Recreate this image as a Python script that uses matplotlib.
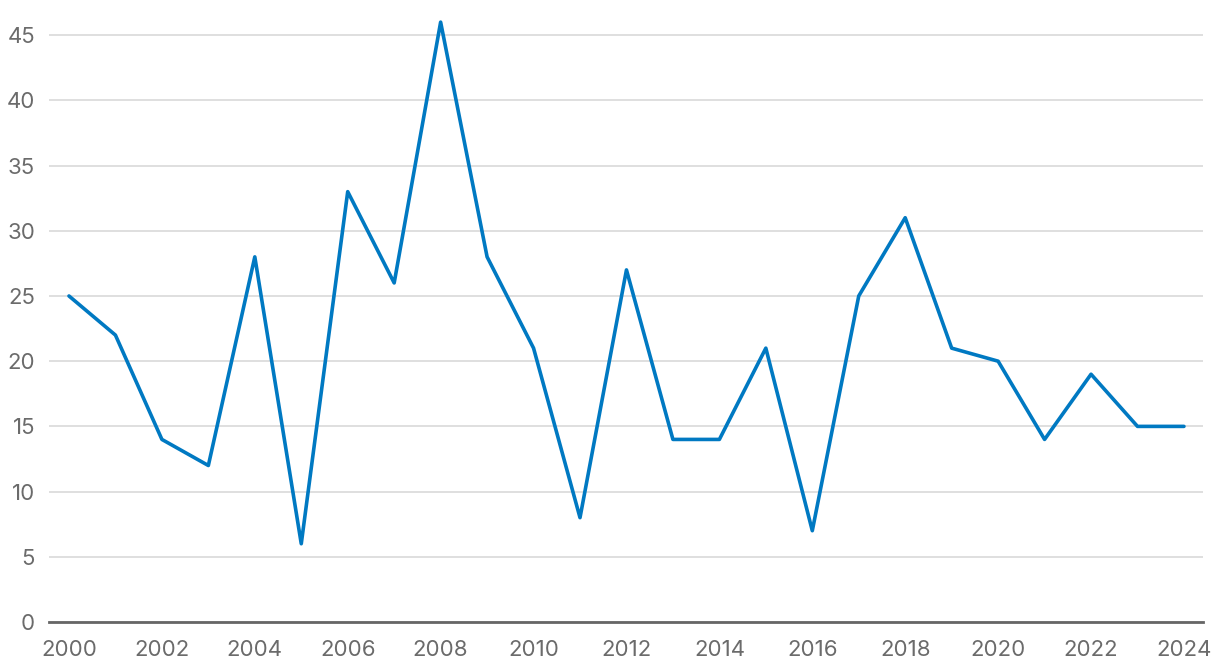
import matplotlib
matplotlib.use("Agg")
import matplotlib.pyplot as plt

years = list(range(2000, 2025))
values = [25, 22, 14, 12, 28, 6, 33, 26, 46, 28, 21, 8, 27, 14, 14, 21, 7, 25, 31, 21, 20, 14, 19, 15, 15]
yticks = [0, 5, 10, 15, 20, 25, 30, 35, 40, 45]
xticks = list(range(2000, 2025, 2))

plt.rcParams['font.family'] = ['Inter', 'DejaVu Sans']

fig = plt.figure(figsize=(12.2, 6.68), dpi=100)
ax = fig.add_axes([49/1220, 46/668, (1203-49)/1220, (622-15.6)/668])
ax.plot(years, values, color='#0079c2', linewidth=2.6, solid_joinstyle='round',
        solid_capstyle='round', zorder=3)
ax.set_xlim(1999.57, 2024.41)
ax.set_ylim(0, 46.5)
ax.set_yticks(yticks)
ax.set_xticks(xticks)
ax.grid(axis='y', color='#d9d9d9', linewidth=1.2, zorder=0)
ax.set_axisbelow(True)
for s in ['top', 'right', 'left']:
    ax.spines[s].set_visible(False)
ax.spines['bottom'].set_color('#666666')
ax.spines['bottom'].set_linewidth(2)
ax.tick_params(axis='both', length=0, labelcolor='#6b6b6b', labelsize=16)
ax.tick_params(axis='y', pad=10)
ax.tick_params(axis='x', pad=13)
fig.savefig('out.png', dpi=100)
